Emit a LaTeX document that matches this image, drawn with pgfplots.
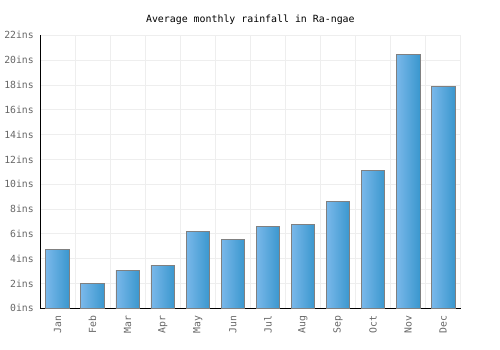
\documentclass[border=0pt]{standalone}
\usepackage{pgfplots}
\pgfplotsset{compat=1.18}
\usepackage{fontspec}
\setmonofont{DejaVu Sans Mono}
\definecolor{barL}{HTML}{7AB8EA}
\definecolor{barR}{HTML}{3A97CE}
\definecolor{gridc}{HTML}{EEEEEE}
\definecolor{tickc}{HTML}{666666}
\pgfplotsset{mybar/.style={ybar, bar width=0.67, bar shift=0pt, draw=gray, line width=0.7pt, left color=barL, right color=barR, forget plot}}
\begin{document}
\begin{tikzpicture}
\path[use as bounding box] (0,0) rectangle (500bp,350bp);
\begin{axis}[
  at={(40bp,41.7bp)}, anchor=south west,
  scale only axis, width=420.7bp, height=273bp,
  xmin=-0.5, xmax=11.5, ymin=0, ymax=22,
  xtick={0,...,11},
  xticklabels={Jan,Feb,Mar,Apr,May,Jun,Jul,Aug,Sep,Oct,Nov,Dec},
  minor xtick={-0.5,0.5,...,11.5},
  ytick={0,2,...,22},
  yticklabel={\pgfmathprintnumber{\tick}ins},
  /pgf/number format/assume math mode=true,
  xmajorgrids=false, xminorgrids=true, ymajorgrids=true,
  grid style={gridc, line width=0.8pt},
  minor grid style={gridc, line width=0.8pt},
  major tick length=0pt, minor tick length=0pt,
  axis x line*=bottom, axis y line*=left,
  axis line style={black, line width=0.9pt},
  every axis x line/.append style={-}, every axis y line/.append style={-},
  tick label style={font=\ttfamily\fontsize{9.8bp}{11bp}\selectfont, text=tickc, inner sep=0pt},
  yticklabel style={anchor=east, xshift=-6bp},
  xticklabel style={rotate=90, anchor=east, xshift=-7bp},
  every axis title shift=0pt,
  title={Average monthly rainfall in Ra-ngae},
  title style={font=\ttfamily\fontsize{9.9bp}{11bp}\selectfont, anchor=center, at={(0.5,1)}, yshift=16bp},
  clip=false,
]
\addplot[mybar] coordinates {(0,4.75)};
\addplot[mybar] coordinates {(1,2.01)};
\addplot[mybar] coordinates {(2,3.06)};
\addplot[mybar] coordinates {(3,3.46)};
\addplot[mybar] coordinates {(4,6.2)};
\addplot[mybar] coordinates {(5,5.56)};
\addplot[mybar] coordinates {(6,6.61)};
\addplot[mybar] coordinates {(7,6.77)};
\addplot[mybar] coordinates {(8,8.62)};
\addplot[mybar] coordinates {(9,11.12)};
\addplot[mybar] coordinates {(10,20.47)};
\addplot[mybar] coordinates {(11,17.89)};
\end{axis}
\end{tikzpicture}
\end{document}
